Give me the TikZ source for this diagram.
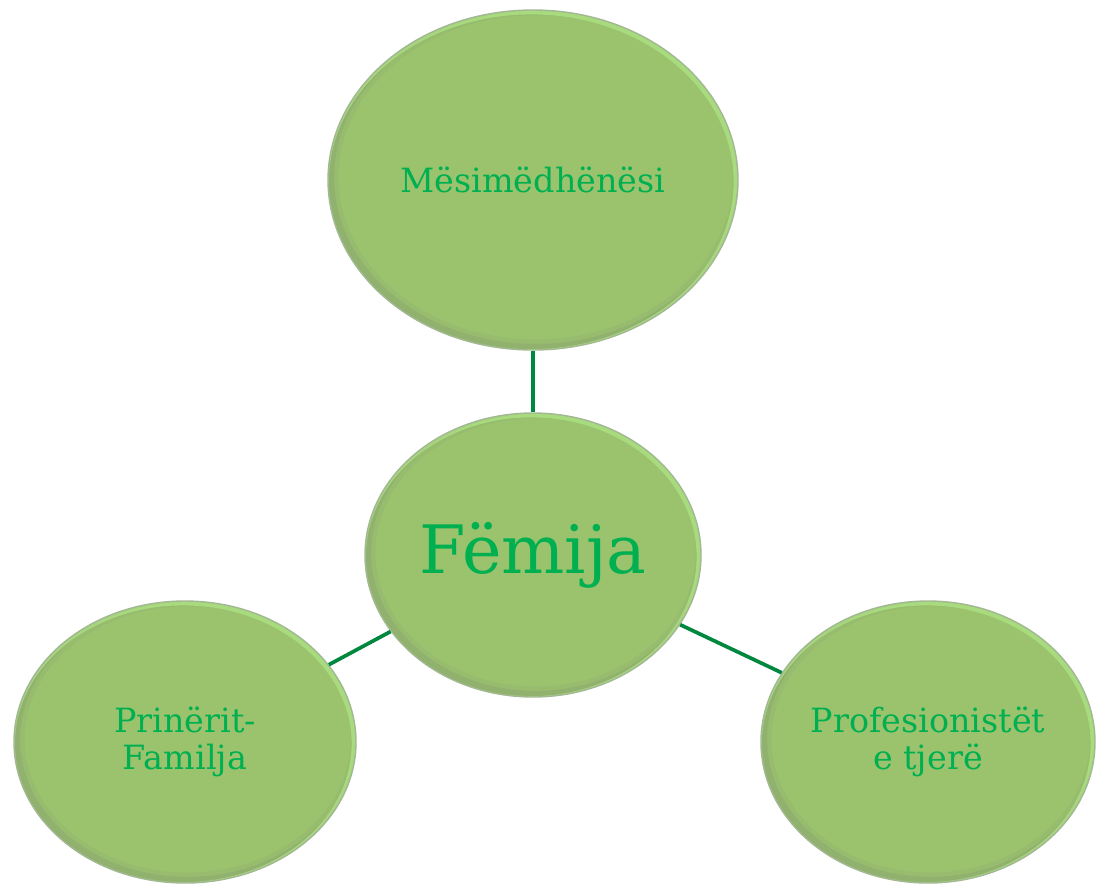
\documentclass[tikz,border=0pt]{standalone}
\usepackage{fontspec}
\setmainfont{DejaVu Serif}
\usetikzlibrary{positioning,shapes.geometric,calc}
\definecolor{bubblefill}{HTML}{9BC36E}
\definecolor{bubblerim}{HTML}{B4EE8A}
\definecolor{bubbleshade}{HTML}{7E8E70}
\definecolor{bubbleedge}{HTML}{A2B892}
\definecolor{labelgreen}{HTML}{00B050}
\definecolor{linkgreen}{HTML}{00873F}

\begin{document}
\begin{tikzpicture}[x=0.02cm,y=-0.02cm,every node/.style = {shape=ellipse, align=center, fill=bubblefill, draw=bubbleedge, line width=0.8pt, text=labelgreen, font=\fontsize{19}{21}\selectfont, inner sep=0pt}, bubble/.style={path picture={
  \draw[bubbleshade, line width=9pt, opacity=.12] let \p1=(path picture bounding box.north east), \p2=(path picture bounding box.center) in ([shift={(1.5pt,1.5pt)}]\p2) ellipse ({\x1-\x2} and {\y1-\y2});
  \draw[bubbleshade, line width=4pt, opacity=.22] let \p1=(path picture bounding box.north east), \p2=(path picture bounding box.center) in ([shift={(1.5pt,1.5pt)}]\p2) ellipse ({\x1-\x2} and {\y1-\y2});
  \draw[bubblerim, line width=3pt, opacity=.6] let \p1=(path picture bounding box.north east), \p2=(path picture bounding box.center) in ([shift={(-1pt,-1pt)}]\p2) ellipse ({\x1-\x2} and {\y1-\y2});
  }}, link/.style={draw=linkgreen, line width=2.1pt}]
\useasboundingbox (0,0) rectangle (1096,887);
\node[bubble, minimum width=410*0.02cm, minimum height=340*0.02cm](teacher) at (533,180) {Mësimëdhënësi};
\node[bubble, minimum width=336*0.02cm, minimum height=284*0.02cm, font=\fontsize{38}{40}\selectfont](child) at (533,555) {Fëmija};
\node[bubble, minimum width=342*0.02cm, minimum height=282*0.02cm](parents) at (185,742) {Prinërit-\\Familja};
\node[bubble, minimum width=334*0.02cm, minimum height=282*0.02cm](others) at (928,742) {Profesionistët\\e tjerë};
\draw[link] (teacher) -- (child);
\draw[link] (parents) -- (child);
\draw[link] (others) -- (child);
\end{tikzpicture}
\end{document}
